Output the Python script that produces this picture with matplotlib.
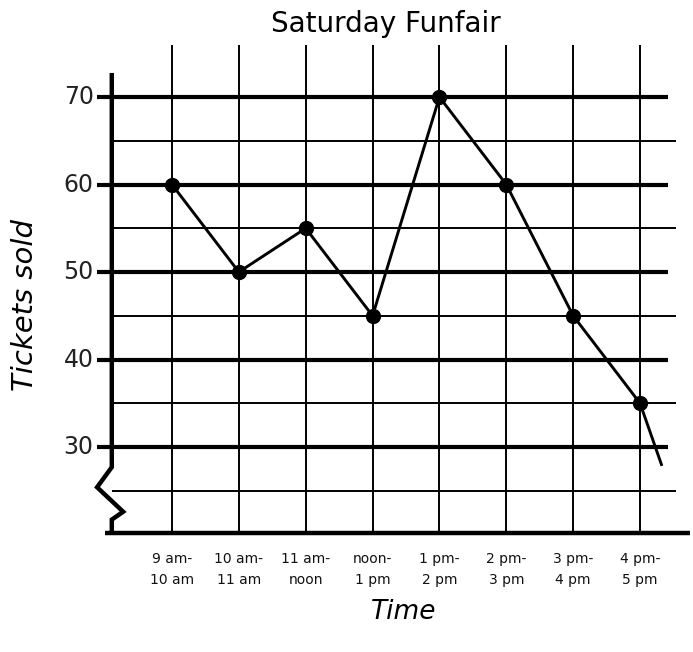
import matplotlib
matplotlib.use("Agg")
import matplotlib.pyplot as plt

# Tickets sold per hour at the Saturday funfair
slots = ["9 am-\n10 am", "10 am-\n11 am", "11 am-\nnoon", "noon-\n1 pm",
         "1 pm-\n2 pm", "2 pm-\n3 pm", "3 pm-\n4 pm", "4 pm-\n5 pm"]
tickets = [60, 50, 55, 45, 70, 60, 45, 35]
major_ticks = [30, 40, 50, 60, 70]
minor_ticks = [25, 35, 45, 55, 65]

# the hand-drawn line runs on a little past the last point
tail_dx = 0.32
tail_value = 28

fig = plt.figure(figsize=(6.93, 6.52), dpi=100)
ax = fig.add_axes([0, 0, 1, 1])
ax.set_xlim(-2.572, 7.792)
ax.set_ylim(6.57, 81.09)
ax.axis("off")

xs = list(range(len(slots)))
ink = "black"

# grid: thick lines at each ten, thin lines half way between
ax.hlines(major_ticks, -1.12, 7.42, color=ink, lw=3.0, zorder=2)
ax.hlines(minor_ticks, -0.90, 7.54, color=ink, lw=1.4, zorder=2)
ax.vlines(xs, 20.2, 75.9, color=ink, lw=1.4, zorder=2)

# y axis with a break symbol near the bottom
ax.plot([-0.90, -0.90, -1.12, -0.73, -0.90, -0.90],
        [72.5, 27.7, 25.4, 22.6, 21.7, 20.2],
        color=ink, lw=3.2, solid_joinstyle="miter", zorder=3)
# x axis
ax.hlines(20.2, -1.0, 7.75, color=ink, lw=3.2, zorder=3)

# the data line and points
ax.plot(xs + [xs[-1] + tail_dx], tickets + [tail_value],
        color=ink, lw=2.1, zorder=4)
ax.plot(xs, tickets, "o", color=ink, ms=10, zorder=5)

for v in major_ticks:
    ax.text(-1.17, v, str(v), ha="right", va="center", fontsize=17, color="#222222")

for x, lab in zip(xs, slots):
    ax.text(x, 18.0, lab, ha="center", va="top", fontsize=10,
            linespacing=1.6, color="#111111")

ax.text(3.2, 78.3, "Saturday Funfair", ha="center", va="center", fontsize=20)
ax.text(3.47, 11.1, "Time", ha="center", va="center", fontsize=19, style="italic")
ax.text(-2.2, 46.2, "Tickets sold", ha="center", va="center", fontsize=21,
        style="italic", rotation=90)

fig.savefig("out.png", dpi=100)
